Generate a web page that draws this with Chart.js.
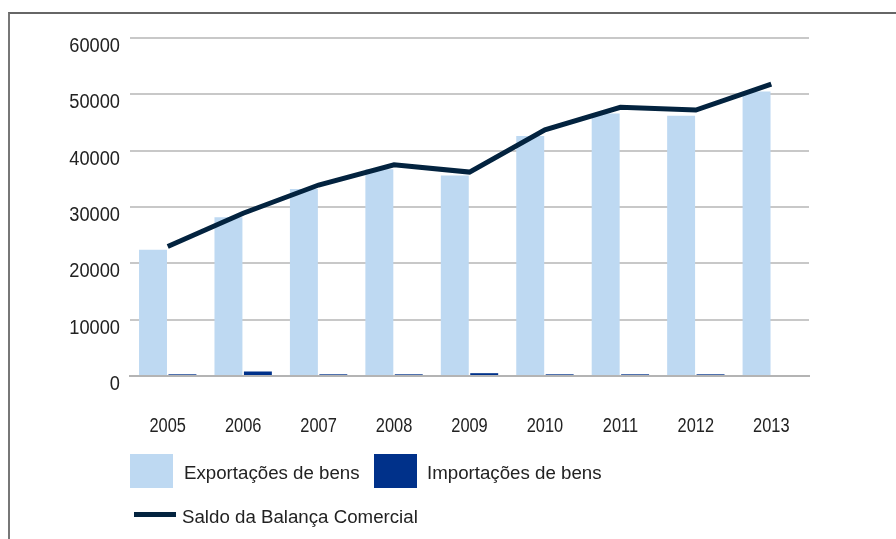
<!DOCTYPE html>
<html>
<head>
<meta charset="utf-8">
<script src="https://cdn.jsdelivr.net/npm/chart.js@4"></script>
<style>
  html, body { margin: 0; padding: 0; background: #fff; }
  #wrap { position: relative; width: 896px; height: 539px; overflow: hidden; font-family: "Liberation Sans", Arial, sans-serif; color: #222; }
  #frame { position: absolute; left: 8px; top: 12px; width: 900px; height: 540px; border-left: 2px solid #777; border-top: 2px solid #666; }
  canvas { position: absolute; left: 0; top: 0; }
  .sw { position: absolute; width: 43px; height: 34px; }
  .lbl { position: absolute; font-size: 18.7px; line-height: 24px; white-space: nowrap; }
  .ln { position: absolute; width: 42px; height: 5px; }
</style>
</head>
<body>
<div id="wrap">
  <div id="frame"></div>
  <canvas id="chart" width="896" height="539"></canvas>
  <div class="sw" style="left:130px; top:454px; background:#bed9f2;"></div>
  <div class="lbl" style="left:184px; top:461px;">Exportações de bens</div>
  <div class="sw" style="left:374px; top:454px; background:#00318a;"></div>
  <div class="lbl" style="left:427px; top:461px;">Importações de bens</div>
  <div class="ln" style="left:134px; top:512px; background:#03233f;"></div>
  <div class="lbl" style="left:182px; top:505px;">Saldo da Balança Comercial</div>
</div>
<script>
const years = ["2005", "2006", "2007", "2008", "2009", "2010", "2011", "2012", "2013"];
const exportacoes = [22400, 28200, 33200, 36700, 35600, 42600, 46600, 46200, 50500];
const importacoes = [300, 800, 300, 300, 500, 300, 300, 300, 0];
const saldo = [23000, 28900, 33900, 37500, 36200, 43700, 47700, 47200, 51800];
const yTicks = [0, 10000, 20000, 30000, 40000, 50000, 60000];

// tick text in the picture is narrower than the font, so squeeze it
const narrowTicks = {
  id: "narrowTicks",
  afterDraw(chart) {
    const ctx = chart.ctx;
    ctx.save();
    ctx.fillStyle = "#222";
    ctx.font = '20.5px "Liberation Sans", Arial, sans-serif';
    ctx.textBaseline = "alphabetic";
    const ys = chart.scales.y;
    ys.ticks.forEach((t, i) => {
      const y = ys.getPixelForTick(i);
      ctx.save();
      ctx.translate(ys.right - 10, y + 14);
      ctx.scale(0.89, 1);
      ctx.textAlign = "right";
      ctx.fillText(String(t.value), 0, 0);
      ctx.restore();
    });
    const xs = chart.scales.x;
    xs.ticks.forEach((t, i) => {
      const x = xs.getPixelForTick(i);
      ctx.save();
      ctx.translate(x, xs.top + 56);
      ctx.scale(0.8, 1);
      ctx.textAlign = "center";
      ctx.fillText(xs.getLabelForValue(t.value), 0, 0);
      ctx.restore();
    });
    ctx.restore();
  }
};

new Chart(document.getElementById("chart").getContext("2d"), {
  type: "bar",
  data: {
    labels: years,
    datasets: [
      {
        type: "line",
        label: "Saldo da Balança Comercial",
        data: saldo,
        borderColor: "#03233f",
        borderWidth: 5,
        pointRadius: 0,
        tension: 0,
        fill: false,
        order: 0
      },
      {
        label: "Exportações de bens",
        data: exportacoes,
        backgroundColor: "#bed9f2",
        categoryPercentage: 0.78,
        barPercentage: 0.95,
        order: 1
      },
      {
        label: "Importações de bens",
        data: importacoes,
        backgroundColor: "#00318a",
        categoryPercentage: 0.78,
        barPercentage: 0.95,
        order: 1
      }
    ]
  },
  options: {
    responsive: false,
    animation: false,
    layout: { padding: { left: 0, right: 87, top: 38, bottom: 103 } },
    plugins: {
      legend: { display: false },
      tooltip: { enabled: false }
    },
    scales: {
      x: {
        grid: { display: false, drawTicks: false },
        border: { display: true, color: "#b4b4b4", width: 2 },
        ticks: { display: false },
        afterFit: s => { s.height = 60; }
      },
      y: {
        min: 0,
        max: 60000,
        afterBuildTicks: s => { s.ticks = yTicks.map(v => ({ value: v })); },
        grid: { color: "#c8c8c8", lineWidth: 2, drawTicks: false },
        border: { display: false },
        ticks: { display: false },
        afterFit: s => { s.width = 130; }
      }
    }
  },
  plugins: [narrowTicks]
});
</script>
</body>
</html>
